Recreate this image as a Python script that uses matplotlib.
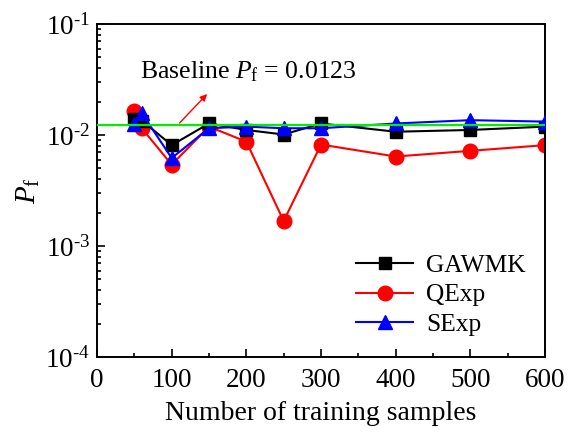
import matplotlib
matplotlib.use("Agg")
import matplotlib.pyplot as plt
from matplotlib.ticker import LogLocator, FixedLocator, MultipleLocator

plt.rcParams['font.family'] = ['Liberation Serif', 'DejaVu Serif']
plt.rcParams['mathtext.fontset'] = 'custom'
plt.rcParams['mathtext.rm'] = 'Liberation Serif'
plt.rcParams['mathtext.it'] = 'Liberation Serif:italic'

samples = [50, 60, 100, 150, 200, 250, 300, 400, 500, 600]
gawmk = [0.0138, 0.0135, 0.0081, 0.0127, 0.0111, 0.0101, 0.0127, 0.0107, 0.0111, 0.0119]
qexp = [0.0164, 0.0115, 0.0054, 0.0119, 0.0087, 0.00168, 0.0082, 0.0064, 0.0072, 0.0081]
sexp = [0.0125, 0.0157, 0.0062, 0.0115, 0.0119, 0.0115, 0.0115, 0.0127, 0.0136, 0.0132]
baseline = 0.0123
xticks = [0, 100, 200, 300, 400, 500, 600]
yticks = [1e-4, 1e-3, 1e-2, 1e-1]
ytick_labels = ['10$^{\u20104}$', '10$^{\u20103}$', '10$^{\u20102}$', '10$^{\u20101}$']

fig = plt.figure(figsize=(5.68, 4.33), dpi=100)
ax = fig.add_axes([0.1708, 0.1755, 0.7887, 0.7691])

ax.plot(samples, gawmk, color='black', marker='s', markersize=9, lw=1.5, label='GAWMK', zorder=3)
ax.plot(samples, qexp, color='red', marker='o', markersize=10.5, lw=1.5, label='QExp', zorder=2)
ax.plot(samples, sexp, color='blue', marker='^', markersize=10.5, lw=1.5, label='SExp', zorder=4)
ax.axhline(baseline, color='#00ee00', lw=1.6, zorder=5)

ax.set_yscale('log')
ax.set_xlim(0, 600)
ax.set_ylim(1e-4, 1e-1)
ax.xaxis.set_major_locator(FixedLocator(xticks))
ax.xaxis.set_minor_locator(MultipleLocator(50))
ax.yaxis.set_major_locator(FixedLocator(yticks))
ax.set_yticklabels(ytick_labels)
ax.yaxis.set_minor_locator(LogLocator(base=10, subs=range(2, 10)))
ax.yaxis.set_minor_formatter(plt.NullFormatter())

ax.tick_params(which='both', direction='in', top=False, right=False, labelsize=19.5, width=1.2)
ax.tick_params(axis='x', which='major', length=6, pad=8)
ax.tick_params(axis='y', which='major', length=6, pad=5)
ax.tick_params(which='minor', length=3)
for s in ax.spines.values():
    s.set_linewidth(1.4)

ax.set_xlabel('Number of training samples', fontsize=20, labelpad=6)
ax.set_ylabel('$P_\\mathrm{f}$', fontsize=21, labelpad=2)

ax.annotate('Baseline $P_\\mathrm{f}$ = 0.0123', xy=(108, baseline),
            xytext=(58, 0.037), fontsize=18.5, color='black', va='center',
            zorder=6)
ax.annotate('', xy=(150, 0.0244), xytext=(108, baseline),
            arrowprops=dict(arrowstyle='-|>', color='red', lw=1.0, mutation_scale=10),
            zorder=6)

leg = ax.legend(loc='upper left', bbox_to_anchor=(0.578, 0.31), frameon=False,
                fontsize=18.3, handlelength=2.25, handletextpad=0.5, labelspacing=0.28,
                borderpad=0, borderaxespad=0)

fig.savefig('out.png', dpi=100)
